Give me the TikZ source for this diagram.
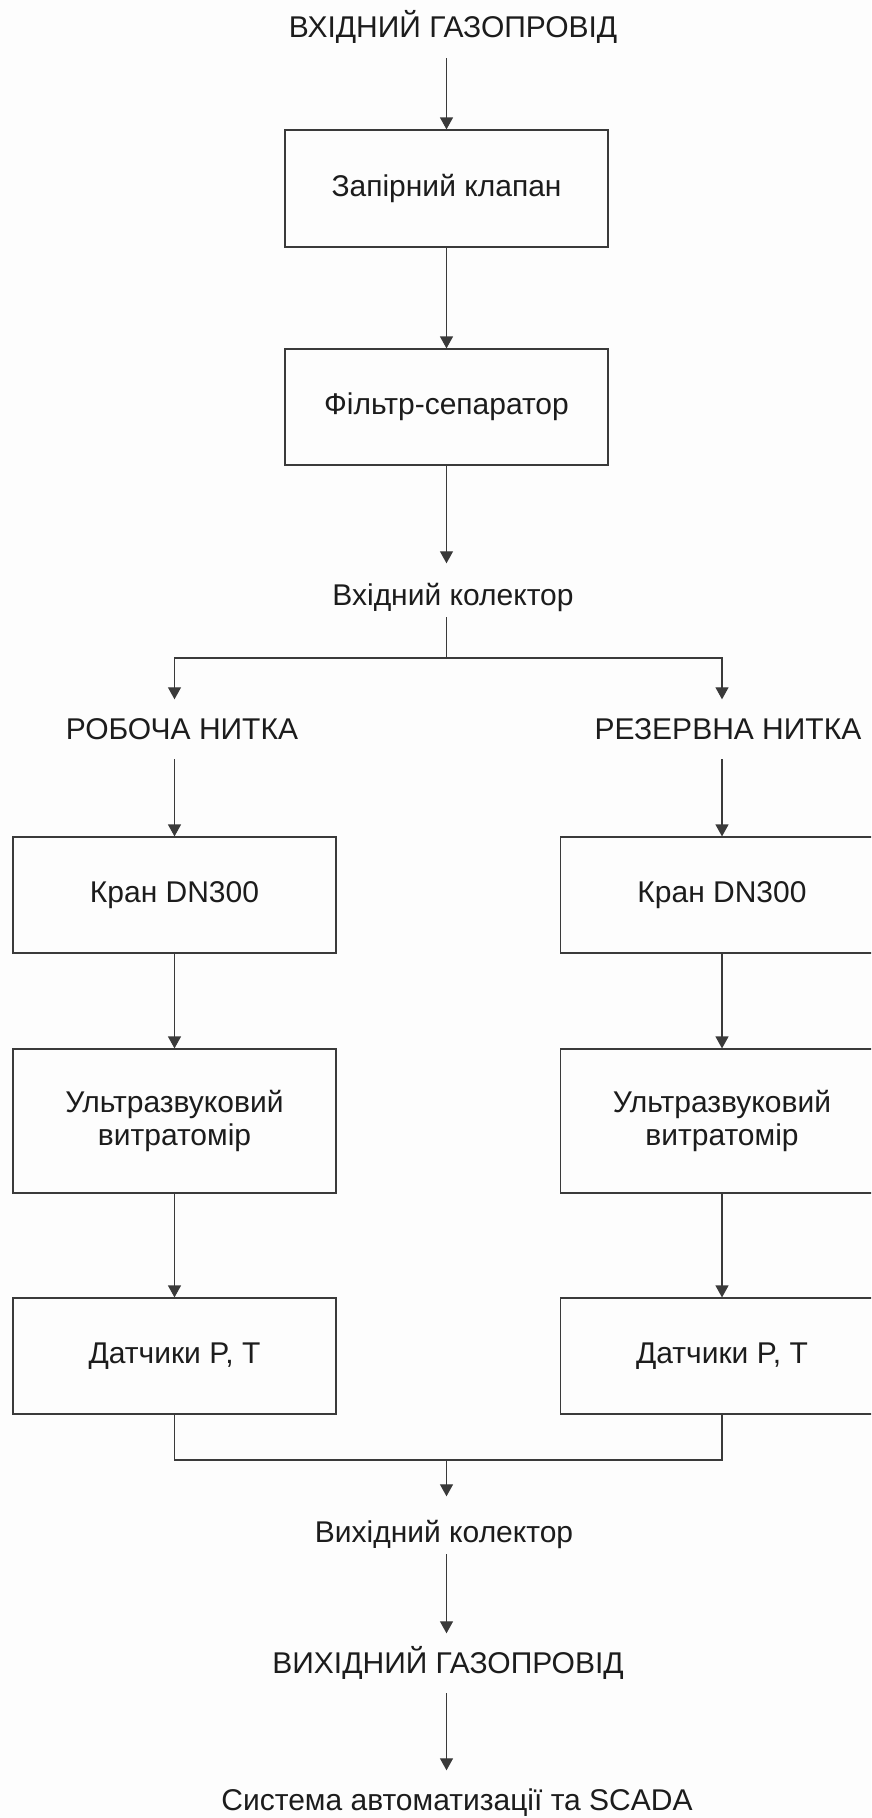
\documentclass[tikz,border=0pt]{standalone}
\usepackage{fontspec}
\setmainfont{Liberation Sans}
\usetikzlibrary{arrows.meta}
\definecolor{lncol}{HTML}{3A3A3A}
\definecolor{txtcol}{HTML}{1C1C1C}
\definecolor{bgcol}{HTML}{FDFDFD}
\tikzset{
  lbl/.style={font=\fontsize{30}{30}\selectfont, inner sep=0pt, text height=21.5pt, text depth=0pt, anchor=base, text=txtcol},
  blk/.style={draw=lncol, line width=1.2pt, minimum width=323pt, inner sep=0pt, font=\fontsize{30}{33}\selectfont, align=center, text=txtcol},
  conn/.style={draw=lncol, line width=1.2pt},
  arr/.style={conn, -{Triangle[width=13pt,length=12pt]}}
}
\begin{document}
\begin{tikzpicture}[x=1pt,y=-1pt]
\path[use as bounding box, fill=bgcol] (0,0) rectangle (871,1818);
\clip (0,0) rectangle (871,1818);

\node[lbl] (in) at (453,37) {ВХІДНИЙ ГАЗОПРОВІД};
\node[blk, minimum height=117pt] (v1) at (446.5,188.5) {Запірний клапан};
\node[blk, minimum height=116pt] (f1) at (446.5,407) {Фільтр-сепаратор};
\node[lbl] (kin) at (453,605) {Вхідний колектор};
\coordinate (split) at (446.5,658);
\node[lbl] (rob) at (182,739) {РОБОЧА НИТКА};
\node[lbl] (rez) at (728,739) {РЕЗЕРВНА НИТКА};
\node[blk, minimum height=116pt] (k1) at (174.5,895) {Кран DN300};
\node[blk, minimum height=116pt] (k2) at (722,895) {Кран DN300};
\node[blk, minimum height=144pt] (u1) at (174.5,1121) {Ультразвуковий\\витратомір};
\node[blk, minimum height=144pt] (u2) at (722,1121) {Ультразвуковий\\витратомір};
\node[blk, minimum height=116pt] (d1) at (174.5,1356) {Датчики P, T};
\node[blk, minimum height=116pt] (d2) at (722,1356) {Датчики P, T};
\coordinate (merge) at (446.5,1460);
\node[lbl] (kout) at (444,1542) {Вихідний колектор};
\node[lbl] (out) at (448,1673) {ВИХІДНИЙ ГАЗОПРОВІД};
\node[lbl] (scada) at (457,1810) {Система автоматизації та SCADA};

\draw[arr, shorten <=21pt] (in.south -| v1.north) -- (v1.north);
\draw[arr] (v1) -- (f1);
\draw[arr, shorten >=20pt] (f1.south) -- (kin.north -| f1.south);
\draw[conn, shorten <=12pt] (kin.south -| split) -- (split);
\draw[arr, shorten >=18pt] (split) -| (rob.north -| k1.north);
\draw[arr, shorten >=18pt] (split) -| (rez.north -| k2.north);
\draw[arr, shorten <=20pt] (rob.south -| k1.north) -- (k1.north);
\draw[arr, shorten <=20pt] (rez.south -| k2.north) -- (k2.north);
\draw[arr] (k1) -- (u1);
\draw[arr] (k2) -- (u2);
\draw[arr] (u1) -- (d1);
\draw[arr] (u2) -- (d2);
\draw[conn] (d1.south) |- (merge) -| (d2.south);
\draw[arr, shorten >=24pt] (merge) -- (kout.north -| merge);
\draw[arr, shorten <=12pt, shorten >=18pt] (kout.south -| merge) -- (out.north -| merge);
\draw[arr, shorten <=20pt, shorten >=18pt] (out.south -| merge) -- (scada.north -| merge);
\end{tikzpicture}
\end{document}
